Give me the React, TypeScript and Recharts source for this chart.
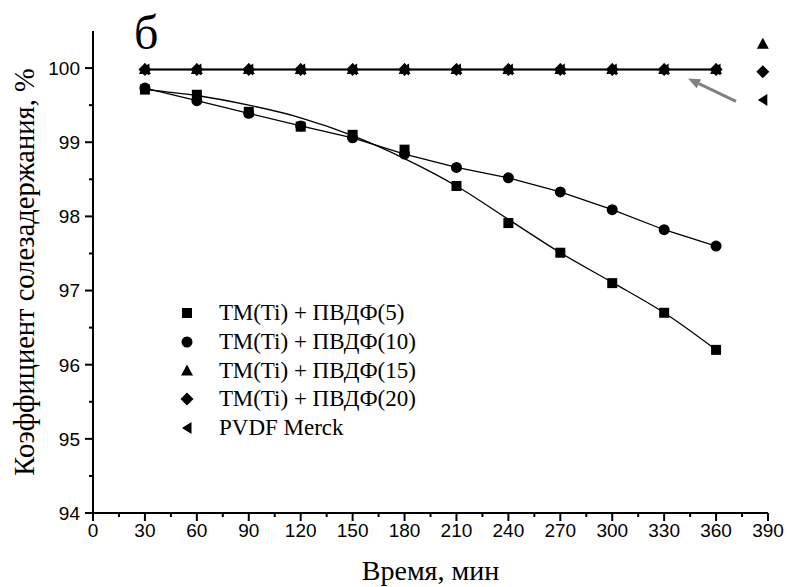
import React from "react";
import {
  LineChart,
  Line,
  XAxis,
  YAxis,
  Legend,
  ReferenceDot,
  ReferenceLine,
} from "recharts";

// time, min
const times = [30, 60, 90, 120, 150, 180, 210, 240, 270, 300, 330, 360];
// salt rejection, %
const pvdf5 = [99.71, 99.64, 99.41, 99.21, 99.1, 98.9, 98.41, 97.91, 97.51, 97.1, 96.7, 96.2];
const pvdf5Fit = [99.71, 99.63, 99.5, 99.33, 99.09, 98.78, 98.41, 97.96, 97.51, 97.11, 96.7, 96.2];
const pvdf10 = [99.73, 99.56, 99.39, 99.22, 99.06, 98.84, 98.66, 98.52, 98.33, 98.09, 97.82, 97.6];
const pvdf15 = [99.98, 99.98, 99.98, 99.98, 99.98, 99.98, 99.98, 99.98, 99.98, 99.98, 99.98, 99.98];
const pvdf20 = [99.98, 99.98, 99.98, 99.98, 99.98, 99.98, 99.98, 99.98, 99.98, 99.98, 99.98, 99.98];
const merck = [99.98, 99.98, 99.98, 99.98, 99.98, 99.98, 99.98, 99.98, 99.98, 99.98, 99.98, 99.98];

const seriesNames = [
  "ТМ(Ti) + ПВДФ(5)",
  "ТМ(Ti) + ПВДФ(10)",
  "ТМ(Ti) + ПВДФ(15)",
  "ТМ(Ti) + ПВДФ(20)",
  "PVDF Merck",
];
const seriesShapes = ["square", "circle", "triangle", "diamond", "left"];

// side marks next to the flat line (triangle, diamond, left triangle)
const sideMarkX = 387;
const sideMarkY = [100.32, 99.95, 99.57];
const arrowFrom = { x: 371.5, y: 99.55 };
const arrowTo = { x: 343.8, y: 99.86 };

const xTicks = [0, 15, 30, 45, 60, 75, 90, 105, 120, 135, 150, 165, 180, 195, 210, 225, 240, 255, 270, 285, 300, 315, 330, 345, 360, 375, 390];
const yTicks = [94, 94.5, 95, 95.5, 96, 96.5, 97, 97.5, 98, 98.5, 99, 99.5, 100, 100.5];

const data = times.map((t, i) => ({
  t,
  pvdf5: pvdf5[i],
  pvdf5Fit: pvdf5Fit[i],
  pvdf10: pvdf10[i],
  pvdf15: pvdf15[i],
  pvdf20: pvdf20[i],
  merck: merck[i],
}));

const SERIF = "Liberation Serif, Times New Roman, serif";
const SANS = "Liberation Sans, Arial, sans-serif";

function Marker({ shape, cx, cy }: { shape: string; cx: number; cy: number }) {
  switch (shape) {
    case "square":
      return <rect x={cx - 5} y={cy - 5} width={10} height={10} fill="#000" />;
    case "circle":
      return <circle cx={cx} cy={cy} r={5.5} fill="#000" />;
    case "triangle":
      return (
        <polygon
          points={`${cx},${cy - 6.5} ${cx - 6},${cy + 4.5} ${cx + 6},${cy + 4.5}`}
          fill="#000"
        />
      );
    case "diamond":
      return (
        <polygon
          points={`${cx},${cy - 6.5} ${cx + 6.5},${cy} ${cx},${cy + 6.5} ${cx - 6.5},${cy}`}
          fill="#000"
        />
      );
    default:
      return (
        <polygon
          points={`${cx - 5},${cy} ${cx + 4.5},${cy - 6} ${cx + 4.5},${cy + 6}`}
          fill="#000"
        />
      );
  }
}

const dotOf = (shape: string) => (p: any) =>
  <Marker key={`${shape}-${p.index}`} shape={shape} cx={p.cx} cy={p.cy} />;

const XTick = (p: any) => {
  const major = p.payload.value % 30 === 0;
  return (
    <g>
      <line x1={p.x} x2={p.x} y1={p.y} y2={p.y + (major ? 8 : 4)} stroke="#000" strokeWidth={2} />
      {major && (
        <text
          x={p.x}
          y={p.y + 11}
          dy="0.71em"
          textAnchor="middle"
          fontFamily={SANS}
          fontSize={19}
          fill="#000"
        >
          {p.payload.value}
        </text>
      )}
    </g>
  );
};

const YTick = (p: any) => {
  const major = Number.isInteger(p.payload.value);
  if (p.payload.value > 100) return null;
  return (
    <g>
      <line x1={p.x - (major ? 8 : 4)} x2={p.x} y1={p.y} y2={p.y} stroke="#000" strokeWidth={2} />
      {major && (
        <text
          x={p.x - 13}
          y={p.y}
          dy="0.36em"
          textAnchor="end"
          fontFamily={SANS}
          fontSize={19}
          fill="#000"
        >
          {p.payload.value}
        </text>
      )}
    </g>
  );
};

const Arrow = (p: any) => {
  const { x1, y1, x2, y2 } = p;
  const a = Math.atan2(y2 - y1, x2 - x1);
  const len = 12;
  const w = 5;
  const bx = x2 - len * Math.cos(a);
  const by = y2 - len * Math.sin(a);
  const nx = -Math.sin(a) * w;
  const ny = Math.cos(a) * w;
  return (
    <g>
      <line x1={x1} y1={y1} x2={bx} y2={by} stroke="#808080" strokeWidth={3} />
      <polygon
        points={`${x2},${y2} ${bx + nx},${by + ny} ${bx - nx},${by - ny}`}
        fill="#808080"
      />
    </g>
  );
};

const LegendBox = () => (
  <div style={{ fontFamily: SERIF, fontSize: 23, color: "#000" }}>
    {seriesNames.map((name, i) => (
      <div key={name} style={{ display: "flex", alignItems: "center", height: 28.7 }}>
        <svg width={20} height={20} style={{ marginRight: 22 }}>
          <Marker shape={seriesShapes[i]} cx={10} cy={10} />
        </svg>
        <span style={{ whiteSpace: "nowrap" }}>{name}</span>
      </div>
    ))}
  </div>
);

export default function App() {
  return (
    <div style={{ position: "absolute", left: 0, top: 0, width: 789, height: 587, background: "#fff" }}>
      <LineChart
        width={789}
        height={587}
        data={data}
        margin={{ top: 31, right: 21, bottom: 0, left: 0 }}
      >
        <XAxis
          dataKey="t"
          type="number"
          domain={[0, 390]}
          ticks={xTicks}
          interval={0}
          height={74}
          tickSize={0}
          tickMargin={0}
          tickLine={false}
          tick={<XTick />}
          axisLine={{ stroke: "#000", strokeWidth: 2 }}
          label={{
            value: "Время, мин",
            position: "center",
            dy: 20,
            fontFamily: SERIF,
            fontSize: 28,
            fill: "#000",
          }}
        />
        <YAxis
          type="number"
          domain={[94, 100.5]}
          ticks={yTicks}
          interval={0}
          width={93}
          tickSize={0}
          tickMargin={0}
          tickLine={false}
          tick={<YTick />}
          allowDataOverflow
          axisLine={{ stroke: "#000", strokeWidth: 2 }}
          label={{
            value: "Коэффициент солезадержания, %",
            angle: -90,
            position: "center",
            dx: -23,
            fontFamily: SERIF,
            fontSize: 28.5,
            fill: "#000",
          }}
        />
        <Legend
          layout="vertical"
          align="center"
          verticalAlign="middle"
          content={<LegendBox />}
          wrapperStyle={{ left: 177, top: 299, width: 280, height: 145 }}
        />
        <Line
          dataKey="pvdf5Fit"
          type="monotone"
          stroke="#000"
          strokeWidth={1.3}
          dot={false}
          legendType="none"
          isAnimationActive={false}
        />
        <Line
          dataKey="pvdf5"
          type="linear"
          stroke="none"
          dot={dotOf("square")}
          activeDot={false}
          isAnimationActive={false}
        />
        <Line
          dataKey="pvdf10"
          type="linear"
          stroke="#000"
          strokeWidth={1.3}
          dot={dotOf("circle")}
          activeDot={false}
          isAnimationActive={false}
        />
        <Line
          dataKey="merck"
          type="linear"
          stroke="#000"
          strokeWidth={1.5}
          dot={dotOf("left")}
          activeDot={false}
          isAnimationActive={false}
        />
        <Line
          dataKey="pvdf20"
          type="linear"
          stroke="#000"
          strokeWidth={1.5}
          dot={dotOf("diamond")}
          activeDot={false}
          isAnimationActive={false}
        />
        <Line
          dataKey="pvdf15"
          type="linear"
          stroke="#000"
          strokeWidth={1.5}
          dot={dotOf("triangle")}
          activeDot={false}
          isAnimationActive={false}
        />
        <ReferenceLine
          segment={[arrowFrom, arrowTo]}
          shape={(p: any) => <Arrow {...p} />}
        />
        <ReferenceDot
          x={sideMarkX}
          y={sideMarkY[0]}
          shape={(p: any) => <Marker shape="triangle" cx={p.cx} cy={p.cy} />}
        />
        <ReferenceDot
          x={sideMarkX}
          y={sideMarkY[1]}
          shape={(p: any) => <Marker shape="diamond" cx={p.cx} cy={p.cy} />}
        />
        <ReferenceDot
          x={sideMarkX}
          y={sideMarkY[2]}
          shape={(p: any) => <Marker shape="left" cx={p.cx} cy={p.cy} />}
        />
      </LineChart>
      <div
        style={{
          position: "absolute",
          left: 134,
          top: 9,
          fontFamily: SERIF,
          fontSize: 48,
          lineHeight: "48px",
          color: "#000",
        }}
      >
        б
      </div>
    </div>
  );
}
